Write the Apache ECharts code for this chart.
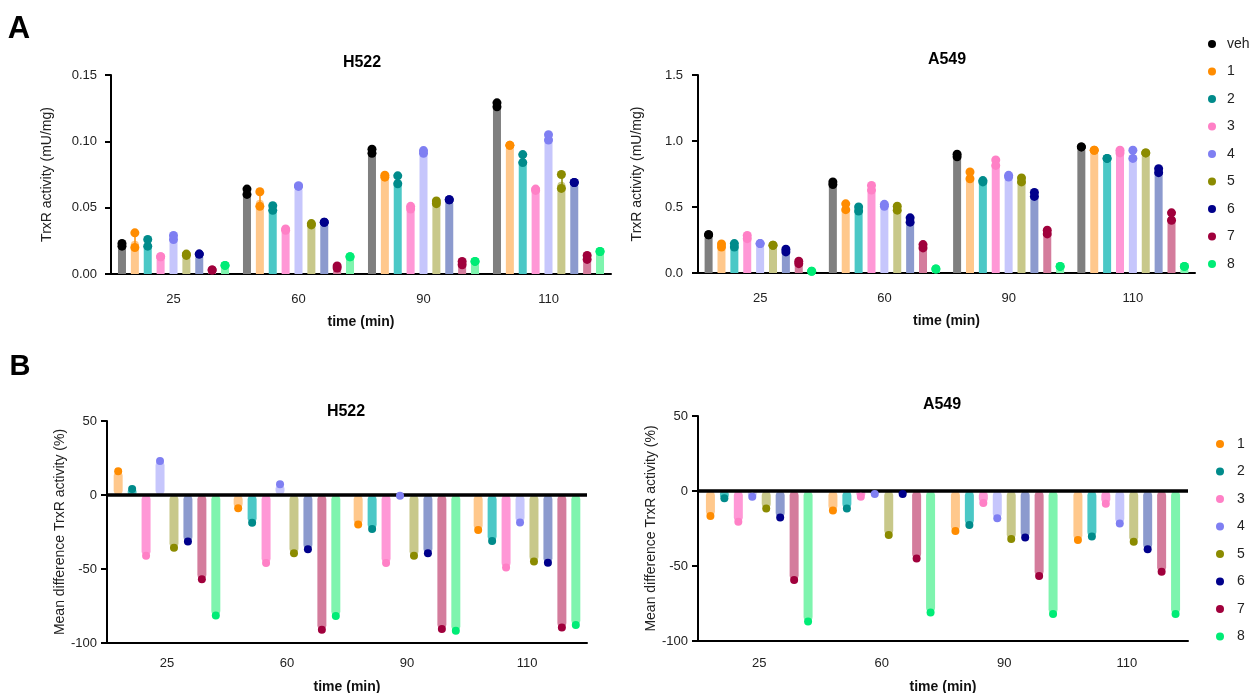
<!DOCTYPE html>
<html><head><meta charset="utf-8">
<script src="https://cdn.jsdelivr.net/npm/echarts@6/dist/echarts.min.js"></script>
<style>html,body{margin:0;padding:0;background:#fff}#c{width:1252px;height:693px}</style>
</head><body><div id="c"></div>
<script>
// ---------- data ----------
const timeLabels = ['25', '60', '90', '110'];
const treatmentsA = ['veh', '1', '2', '3', '4', '5', '6', '7', '8'];
const treatmentsB = ['1', '2', '3', '4', '5', '6', '7', '8'];
const dotColors = ['#000000', '#FF8C00', '#008B8B', '#FF80C6', '#7F7FF2', '#8B8B00', '#00008B', '#A0003C', '#00EC76'];
const barColors = ['#7F7F7F', '#FFC88C', '#4BC8C6', '#FF98D6', '#C6C6FC', '#C8C88A', '#8C9ACE', '#D47C9C', '#7EF4AE'];

// A: H522 TrxR activity (mU/mg), mean per treatment over time
const h522Mean = [
  [0.022, 0.062, 0.092, 0.127],
  [0.025, 0.056, 0.074, 0.097],
  [0.023, 0.050, 0.071, 0.087],
  [0.0135, 0.034, 0.050, 0.064],
  [0.027, 0.066, 0.092, 0.103],
  [0.014, 0.0375, 0.054, 0.0695],
  [0.015, 0.039, 0.056, 0.069],
  [0.003, 0.005, 0.008, 0.0125],
  [0.0065, 0.013, 0.0095, 0.017]
];
const h522Reps = [
  [[0.021, 0.023], [0.060, 0.064], [0.091, 0.094], [0.126, 0.129]],
  [[0.020, 0.031], [0.051, 0.062], [0.073, 0.0745], [0.097, 0.097]],
  [[0.021, 0.026], [0.048, 0.0515], [0.068, 0.074], [0.084, 0.090]],
  [[0.013, 0.013], [0.033, 0.034], [0.049, 0.051], [0.063, 0.064]],
  [[0.026, 0.029], [0.066, 0.0665], [0.091, 0.093], [0.101, 0.105]],
  [[0.014, 0.015], [0.037, 0.038], [0.053, 0.055], [0.0645, 0.075]],
  [[0.015, 0.015], [0.039, 0.039], [0.056, 0.056], [0.069, 0.069]],
  [[0.003, 0.003], [0.0045, 0.006], [0.007, 0.0095], [0.011, 0.014]],
  [[0.0065, 0.0065], [0.013, 0.013], [0.0095, 0.0095], [0.017, 0.017]]
];

// A: A549 TrxR activity (mU/mg)
const a549Mean = [
  [0.29, 0.68, 0.89, 0.955],
  [0.21, 0.50, 0.74, 0.93],
  [0.21, 0.49, 0.70, 0.87],
  [0.27, 0.645, 0.835, 0.92],
  [0.22, 0.51, 0.73, 0.90],
  [0.21, 0.49, 0.705, 0.91],
  [0.17, 0.40, 0.595, 0.775],
  [0.08, 0.20, 0.31, 0.43],
  [0.012, 0.03, 0.05, 0.05]
];
const a549Reps = [
  [[0.29, 0.29], [0.67, 0.69], [0.88, 0.90], [0.955, 0.955]],
  [[0.197, 0.22], [0.48, 0.524], [0.714, 0.765], [0.93, 0.93]],
  [[0.197, 0.223], [0.47, 0.50], [0.69, 0.70], [0.868, 0.868]],
  [[0.26, 0.284], [0.628, 0.663], [0.815, 0.856], [0.91, 0.93]],
  [[0.223, 0.223], [0.506, 0.52], [0.727, 0.74], [0.868, 0.93]],
  [[0.21, 0.21], [0.476, 0.506], [0.69, 0.72], [0.91, 0.91]],
  [[0.16, 0.18], [0.385, 0.418], [0.58, 0.61], [0.76, 0.79]],
  [[0.071, 0.089], [0.19, 0.215], [0.296, 0.324], [0.40, 0.456]],
  [[0.013, 0.013], [0.03, 0.03], [0.05, 0.05], [0.05, 0.05]]
];

// B: mean difference TrxR activity (%) vs veh, treatments 1..8
const h522Diff = [
  [16, -9, -20, -23.6],
  [4, -18.7, -23, -31],
  [-41, -46, -46, -49],
  [23, 7.2, -0.5, -18.5],
  [-35.6, -39.4, -41, -45],
  [-31.5, -36.7, -39.4, -45.7],
  [-57, -91, -90.5, -89.6],
  [-81.5, -81.8, -91.7, -87.8]
];
const a549Diff = [
  [-16.7, -13, -26.7, -32.7],
  [-4.9, -11.6, -22.7, -30.4],
  [-20.5, -3.8, -8, -8.5],
  [-3.8, -2, -18.2, -21.6],
  [-11.6, -29.3, -32, -33.8],
  [-17.6, -2, -31, -38.9],
  [-59.3, -45, -56.7, -53.8],
  [-87, -81, -82, -82]
];

// ---------- chart ----------
const FONT = 'Liberation Sans, Arial, Helvetica, sans-serif';
const chart = echarts.init(document.getElementById('c'), null, {renderer: 'canvas'});

function xAxisCfg(gridIndex, labelMargin, nameGap) {
  return {
    type: 'category', gridIndex, data: timeLabels, boundaryGap: true,
    axisLine: {onZero: false, lineStyle: {color: '#000', width: 2}},
    axisTick: {alignWithLabel: true, length: 6, lineStyle: {color: '#000', width: 2}},
    axisLabel: {color: '#222', fontSize: 13, margin: labelMargin, fontFamily: FONT},
    name: 'time (min)', nameLocation: 'middle', nameGap,
    nameTextStyle: {color: '#111', fontSize: 14, fontWeight: 'bold', fontFamily: FONT}
  };
}
function yAxisCfg(gridIndex, min, max, interval, digits, labelMargin, name, nameGap) {
  return {
    type: 'value', gridIndex, min, max, interval,
    axisLine: {show: true, lineStyle: {color: '#000', width: 2}},
    axisTick: {show: true, length: 6, lineStyle: {color: '#000', width: 2}},
    splitLine: {show: false},
    axisLabel: {color: '#222', fontSize: 13, margin: labelMargin, fontFamily: FONT,
      formatter: v => Number(v).toFixed(digits)},
    name, nameLocation: 'middle', nameGap, nameRotate: 90,
    nameTextStyle: {color: '#222', fontSize: 14, fontFamily: FONT}
  };
}

function topSeries(gi, means, reps) {
  return treatmentsA.map((name, i) => ({
    type: 'bar', name, xAxisIndex: gi, yAxisIndex: gi,
    data: means[i], barWidth: 8, barGap: '61%',
    itemStyle: {color: barColors[i], borderRadius: [4, 4, 0, 0]},
    markLine: {
      silent: true, symbol: 'none', label: {show: false},
      lineStyle: {color: dotColors[i], width: 1.5, type: 'solid'},
      data: reps[i].map((pair, t) => [{coord: [t, pair[0]]}, {coord: [t, pair[1]]}])
    },
    markPoint: {
      symbol: 'circle', symbolSize: 9, silent: true, label: {show: false},
      itemStyle: {color: dotColors[i]},
      data: reps[i].flatMap((pair, t) => pair.map(v => ({coord: [t, v]})))
    }
  }));
}
function diffSeries(gi, diffs) {
  return treatmentsB.map((name, k) => {
    const i = k + 1;
    const s = {
      type: 'bar', name, xAxisIndex: gi, yAxisIndex: gi,
      data: diffs[k], barWidth: 9, barGap: '55%',
      itemStyle: {color: barColors[i], borderRadius: 4.5},
      markPoint: {
        symbol: 'circle', symbolSize: 8, silent: true, label: {show: false},
        itemStyle: {color: dotColors[i]},
        data: diffs[k].map((v, t) => ({coord: [t, v]}))
      }
    };
    if (k === 0) {
      s.markLine = {silent: true, symbol: 'none', label: {show: false},
        lineStyle: {color: '#000', width: 3.5, type: 'solid'}, data: [{yAxis: 0}]};
    }
    return s;
  });
}

function textEl(x, y, text, size, weight) {
  return {type: 'text', x, y, style: {text, fill: '#000', font: `${weight} ${size}px ${FONT}`,
    textAlign: 'center', textVerticalAlign: 'middle'}};
}

const option = {
  animation: false,
  textStyle: {fontFamily: FONT},
  grid: [
    {left: 111, top: 75, width: 500, height: 199, outerBoundsMode: 'none', containLabel: false},
    {left: 698, top: 75, width: 497, height: 198, outerBoundsMode: 'none', containLabel: false},
    {left: 107, top: 421, width: 480, height: 222, outerBoundsMode: 'none', containLabel: false},
    {left: 698, top: 416, width: 490, height: 225, outerBoundsMode: 'none', containLabel: false}
  ],
  xAxis: [xAxisCfg(0, 19, 41), xAxisCfg(1, 19, 41), xAxisCfg(2, 14, 37), xAxisCfg(3, 16, 39)],
  yAxis: [
    yAxisCfg(0, 0, 0.15, 0.05, 2, 14, 'TrxR activity (mU/mg)', 57),
    yAxisCfg(1, 0, 1.5, 0.5, 1, 15, 'TrxR activity (mU/mg)', 54),
    yAxisCfg(2, -100, 50, 50, 0, 10, 'Mean difference TrxR activity (%)', 37),
    yAxisCfg(3, -100, 50, 50, 0, 10, 'Mean difference TrxR activity (%)', 40)
  ],
  legend: [
    {orient: 'vertical', left: 1203, top: 32, icon: 'circle', itemWidth: 8, itemHeight: 8, itemGap: 13.5,
      selectedMode: false,
      textStyle: {color: '#222', fontSize: 14, padding: [0, 0, 0, 6]},
      data: treatmentsA.map((n, i) => ({name: n, itemStyle: {color: dotColors[i]}}))},
    {orient: 'vertical', left: 1211, top: 432, icon: 'circle', itemWidth: 8, itemHeight: 8, itemGap: 13.5,
      selectedMode: false,
      textStyle: {color: '#222', fontSize: 14, padding: [0, 0, 0, 8]},
      data: treatmentsB.map((n, k) => ({name: n, itemStyle: {color: dotColors[k + 1]}}))}
  ],
  graphic: [
    textEl(19, 29, 'A', 31, 'bold'),
    textEl(20, 367, 'B', 29, 'bold'),
    textEl(362, 63, 'H522', 16, 'bold'),
    textEl(947, 60, 'A549', 16, 'bold'),
    textEl(346, 412, 'H522', 16, 'bold'),
    textEl(942, 405, 'A549', 16, 'bold')
  ],
  series: [
    ...topSeries(0, h522Mean, h522Reps),
    ...topSeries(1, a549Mean, a549Reps),
    ...diffSeries(2, h522Diff),
    ...diffSeries(3, a549Diff)
  ]
};
chart.setOption(option);
</script>
</body></html>
